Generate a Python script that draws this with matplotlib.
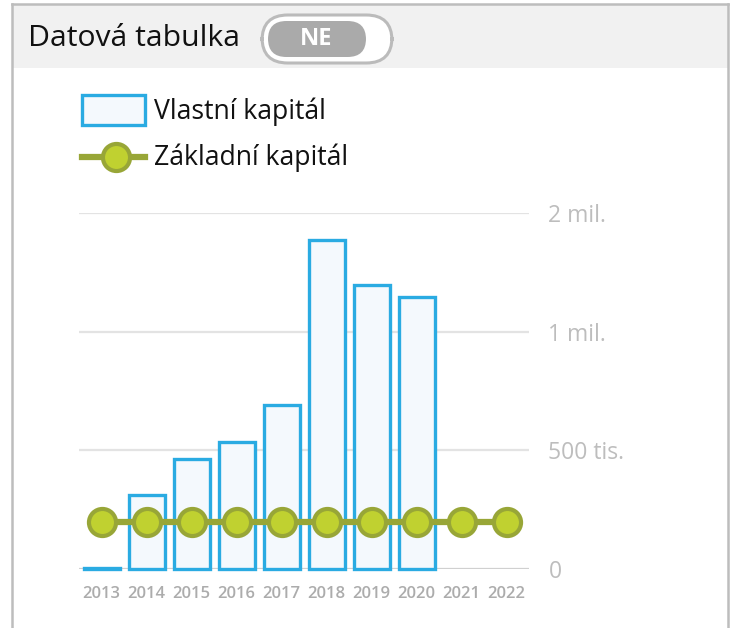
import numpy as np
import matplotlib
matplotlib.use("Agg")
import matplotlib.pyplot as plt
from matplotlib.patches import Rectangle, FancyBboxPatch
from matplotlib.lines import Line2D

# ---- data ----
years = ["2013", "2014", "2015", "2016", "2017", "2018", "2019", "2020", "2021", "2022"]
equity = [5000, 310000, 465000, 535000, 690000, 1770000, 1390000, 1295000, None, None]
basic_capital = [200000] * 10
ytick_values = [0, 500000, 1000000, 2000000]
ytick_labels = ["0", "500 tis.", "1 mil.", "2 mil."]
legend_labels = ["Vlastní kapitál", "Základní kapitál"]
title = "Datová tabulka"
toggle_text = "NE"

FONT = "Open Sans"
plt.rcParams["font.family"] = [FONT, "DejaVu Sans"]

W, H = 736, 628
fig = plt.figure(figsize=(W / 100, H / 100), dpi=100)
fig.patch.set_facecolor("white")

def fx(px):
    return px / W

def fy(py):
    return 1 - py / H

# ---- card frame + header band ----
fig.add_artist(Rectangle((fx(12), fy(68)), fx(728) - fx(12), fy(4) - fy(68),
                         transform=fig.transFigure, facecolor="#f1f1f1", edgecolor="none", zorder=0))
fig.add_artist(Line2D([fx(12), fx(12)], [fy(4), 0], transform=fig.transFigure, color="#bdbdbd", lw=1.8))
fig.add_artist(Line2D([fx(728), fx(728)], [fy(4), 0], transform=fig.transFigure, color="#bdbdbd", lw=1.8))
fig.add_artist(Line2D([fx(12), fx(728)], [fy(4), fy(4)], transform=fig.transFigure, color="#bdbdbd", lw=1.8))

fig.text(fx(28), fy(39), title, fontsize=21.7, color="#111111", va="center", ha="left")

# toggle
outer = FancyBboxPatch((fx(262), fy(63)), fx(392) - fx(262), fy(15) - fy(63),
                       boxstyle="round,pad=0,rounding_size=0.035", transform=fig.transFigure,
                       facecolor="white", edgecolor="#bbbbbb", lw=2.2, mutation_aspect=W / H)
fig.add_artist(outer)
inner = FancyBboxPatch((fx(268), fy(57)), fx(366) - fx(268), fy(21) - fy(57),
                       boxstyle="round,pad=0,rounding_size=0.025", transform=fig.transFigure,
                       facecolor="#aaaaaa", edgecolor="none", mutation_aspect=W / H)
fig.add_artist(inner)
fig.text(fx(316), fy(39), toggle_text, fontsize=17, fontweight="bold", color="white",
         ha="center", va="center")

# ---- chart axes ----
ax = fig.add_axes([fx(79), fy(569), fx(529) - fx(79), fy(213) - fy(569)])
ax.set_facecolor("none")

knots_v = np.array([0, 500000, 1000000, 2000000], dtype=float)
knots_t = np.array([0, 1, 2, 3], dtype=float)

def fwd(v):
    v = np.asarray(v, dtype=float)
    out = np.interp(v, knots_v, knots_t)
    out = np.where(v > knots_v[-1], 3 + (v - knots_v[-1]) / 1e6, out)
    out = np.where(v < 0, v / 5e5, out)
    return out

def inv(t):
    t = np.asarray(t, dtype=float)
    out = np.interp(t, knots_t, knots_v)
    out = np.where(t > 3, 2e6 + (t - 3) * 1e6, out)
    out = np.where(t < 0, t * 5e5, out)
    return out

ax.set_yscale("function", functions=(fwd, inv))
ax.set_ylim(0, 2000000)
x = np.arange(len(years))
ax.set_xlim(-0.5, len(years) - 0.5)

bx = [i for i, v in enumerate(equity) if v is not None]
bv = [v for v in equity if v is not None]
bars = ax.bar(bx, bv, width=0.8, facecolor="#f4f9fd", edgecolor="#2aabe2", linewidth=2.4, zorder=3,
              label=legend_labels[0])
for b in bars:
    b.set_clip_on(False)

ax.plot(x, basic_capital, color="#98a637", lw=4.5, marker="o", markersize=19.5,
        markerfacecolor="#c0d130", markeredgecolor="#98a637", markeredgewidth=3, zorder=4,
        clip_on=False, label=legend_labels[1])

ax.set_yticks(ytick_values)
ax.set_yticklabels(ytick_labels)
ax.yaxis.tick_right()
ax.tick_params(axis="y", length=0, pad=14, labelsize=16.5, labelcolor="#bdbdbd")
ax.set_xticks(x)
ax.set_xticklabels(years)
ax.tick_params(axis="x", length=0, pad=12, labelsize=12, labelcolor="#acacac")
for lbl in ax.get_xticklabels():
    lbl.set_fontweight("semibold")
ax.grid(axis="y", color="#e3e3e3", lw=1.6, zorder=0)
ax.grid(axis="x", visible=False)
ygl = ax.get_ygridlines()
if ygl:
    ygl[0].set_color("#d0d0d0")
for s in ax.spines.values():
    s.set_visible(False)

# ---- legend (manual, figure coords) ----
fig.add_artist(Rectangle((fx(82), fy(125)), fx(145) - fx(82), fy(95) - fy(125),
                         transform=fig.transFigure, facecolor="#f4f9fd", edgecolor="#2aabe2", lw=2.4))
fig.text(fx(154), fy(112), legend_labels[0], fontsize=19.2, color="#111111", va="center", ha="left")
fig.add_artist(Line2D([fx(82), fx(145)], [fy(157), fy(157)], transform=fig.transFigure,
                      color="#98a637", lw=4.5))
fig.add_artist(Line2D([fx(116)], [fy(157)], transform=fig.transFigure, marker="o", markersize=19.5,
                      markerfacecolor="#c0d130", markeredgecolor="#98a637", markeredgewidth=3, lw=0))
fig.text(fx(154), fy(158), legend_labels[1], fontsize=19.2, color="#111111", va="center", ha="left")

fig.savefig("out.png", dpi=100)
